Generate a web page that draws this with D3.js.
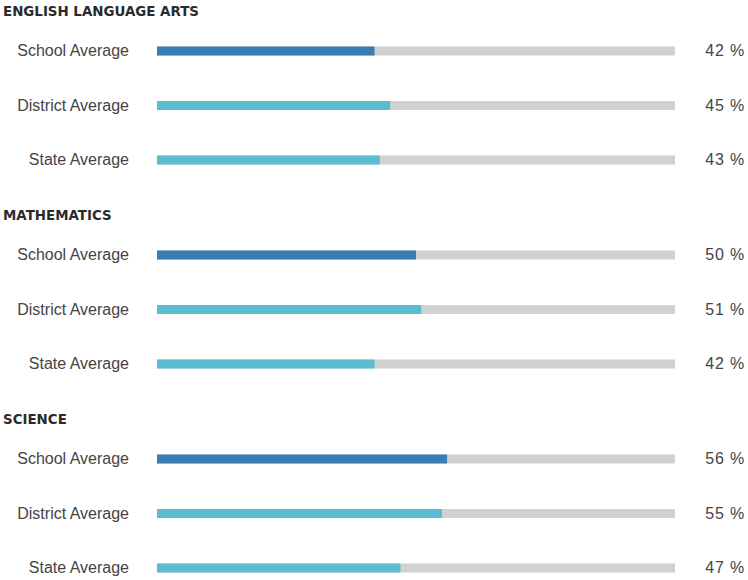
<!DOCTYPE html>
<html>
<head>
<meta charset="utf-8">
<script src="https://cdn.jsdelivr.net/npm/d3@7"></script>
<style>
  body { margin: 0; background: #fff; }
  .heading { font-family: "DejaVu Sans", Verdana, sans-serif; font-weight: bold; font-size: 13.4px; fill: #2b2b2b; }
  .rowLabel, .valueLabel { font-family: "Liberation Sans", Arial, sans-serif; font-size: 16px; fill: #444; }
  .valueLabel { letter-spacing: 0.8px; }
</style>
</head>
<body>
<svg id="chart"></svg>
<script>
const subjects = ["ENGLISH LANGUAGE ARTS", "MATHEMATICS", "SCIENCE"];
const levels = ["School Average", "District Average", "State Average"];
const schoolValues = [42, 50, 56];
const districtValues = [45, 51, 55];
const stateValues = [43, 42, 47];

const width = 748;
const height = 580;
const colors = { "School Average": "#3a7db3", "District Average": "#5bbbd1", "State Average": "#5bbbd1" };

const svg = d3.select("#chart").attr("width", width).attr("height", height);

const x = d3.scaleLinear().domain([0, 100]).range([157, 675]);

// section headings placed on a linear scale, rows offset inside each section
const sectionY = d3.scaleLinear().domain([0, 1]).range([11, 215]);
const rowY = d3.scaleLinear().domain([0, 1]).range([40, 94.5]);

const data = subjects.flatMap((s, i) => [
  { subject: s, level: levels[0], value: schoolValues[i], si: i, ri: 0 },
  { subject: s, level: levels[1], value: districtValues[i], si: i, ri: 1 },
  { subject: s, level: levels[2], value: stateValues[i], si: i, ri: 2 },
]);

const yOf = (d) => sectionY(d.si) + rowY(d.ri);

svg
  .selectAll(".heading")
  .data(subjects)
  .join("text")
  .attr("class", "heading")
  .attr("x", 3)
  .attr("y", (d, i) => sectionY(i) + 5)
  .text((d) => d);

const barH = 9;

svg
  .selectAll(".track")
  .data(data)
  .join("rect")
  .attr("class", "track")
  .attr("x", x(0))
  .attr("y", (d) => yOf(d) - barH / 2)
  .attr("width", x(100) - x(0))
  .attr("height", barH)
  .attr("fill", "#d1d1d1");

svg
  .selectAll(".bar")
  .data(data)
  .join("rect")
  .attr("class", "bar")
  .attr("x", x(0))
  .attr("y", (d) => yOf(d) - barH / 2)
  .attr("width", (d) => x(d.value) - x(0))
  .attr("height", barH)
  .attr("fill", (d) => colors[d.level]);

svg
  .selectAll(".rowLabel")
  .data(data)
  .join("text")
  .attr("class", "rowLabel")
  .attr("x", 129)
  .attr("y", (d) => yOf(d) + 5)
  .attr("text-anchor", "end")
  .text((d) => d.level);

svg
  .selectAll(".valueLabel")
  .data(data)
  .join("text")
  .attr("class", "valueLabel")
  .attr("x", 745)
  .attr("y", (d) => yOf(d) + 5)
  .attr("text-anchor", "end")
  .text((d) => `${d.value} %`);
</script>
</body>
</html>
